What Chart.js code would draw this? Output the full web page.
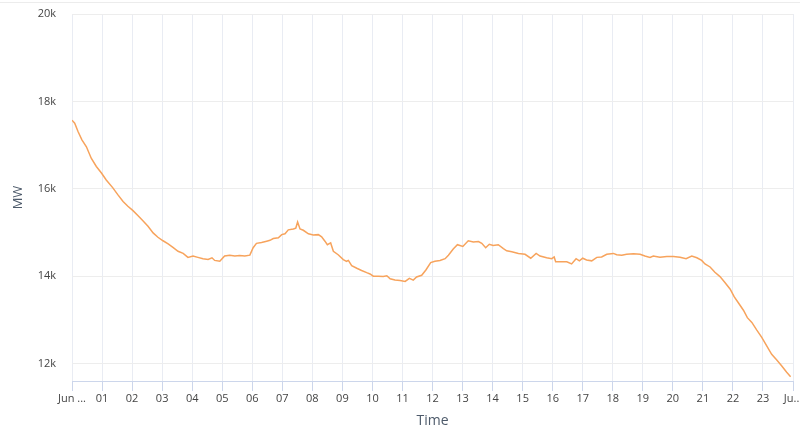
<!DOCTYPE html>
<html>
<head>
<meta charset="utf-8">
<script src="https://cdn.jsdelivr.net/npm/chart.js@4"></script>
<style>
  html, body { margin: 0; padding: 0; background: #fff; }
  #wrap { position: relative; width: 800px; height: 430px; }
  #topline { position: absolute; left: 0; top: 2px; width: 800px; height: 1px; background: #ececec; }
</style>
</head>
<body>
<div id="wrap">
  <div id="topline"></div>
  <canvas id="grafico" width="800" height="430"></canvas>
</div>
<script>
// hour of day (0 = midnight) for each reading
const hours = [
  0.00, 0.09, 0.20, 0.33, 0.48, 0.64, 0.81, 0.98, 1.14, 1.36,
  1.53, 1.70, 1.86, 2.03, 2.20, 2.36, 2.53, 2.70, 2.86, 3.03,
  3.20, 3.36, 3.53, 3.70, 3.86, 4.03, 4.19, 4.36, 4.53, 4.66,
  4.75, 4.92, 5.08, 5.25, 5.42, 5.58, 5.75, 5.92, 6.03, 6.14,
  6.31, 6.48, 6.59, 6.70, 6.87, 6.98, 7.09, 7.20, 7.37, 7.45,
  7.51, 7.59, 7.70, 7.87, 8.03, 8.20, 8.31, 8.42, 8.50, 8.61,
  8.70, 8.86, 9.03, 9.14, 9.20, 9.31, 9.48, 9.64, 9.81, 9.92,
  10.03, 10.20, 10.36, 10.48, 10.59, 10.75, 10.92, 11.09, 11.23, 11.36,
  11.47, 11.64, 11.78, 11.94, 12.08, 12.25, 12.42, 12.53, 12.69, 12.83,
  13.01, 13.19, 13.36, 13.53, 13.64, 13.77, 13.89, 14.02, 14.19, 14.36,
  14.47, 14.64, 14.86, 15.08, 15.27, 15.45, 15.58, 15.80, 15.97, 16.05,
  16.10, 16.30, 16.47, 16.63, 16.78, 16.89, 17.00, 17.13, 17.30, 17.47,
  17.63, 17.80, 18.02, 18.13, 18.30, 18.46, 18.69, 18.91, 19.07, 19.24,
  19.35, 19.57, 19.80, 20.02, 20.24, 20.44, 20.63, 20.80, 20.96, 21.07,
  21.24, 21.40, 21.57, 21.74, 21.91, 22.04, 22.18, 22.35, 22.48, 22.63,
  22.79, 22.96, 23.13, 23.29, 23.46, 23.62, 23.79, 23.92
];

// load in MW
const loadMW = [
  17570, 17500, 17310, 17120, 16960, 16700, 16510, 16360, 16200, 16020,
  15860, 15710, 15600, 15500, 15380, 15270, 15140, 14990, 14890, 14810,
  14740, 14660, 14570, 14520, 14430, 14460, 14430, 14400, 14380, 14420,
  14360, 14340, 14460, 14480, 14460, 14470, 14460, 14480, 14650, 14750,
  14770, 14800, 14820, 14860, 14880, 14950, 14970, 15060, 15080, 15100,
  15240, 15080, 15050, 14970, 14940, 14950, 14900, 14800, 14720, 14760,
  14570, 14490, 14380, 14340, 14360, 14240, 14180, 14130, 14080, 14050,
  14000, 14000, 13990, 14010, 13940, 13910, 13900, 13880, 13950, 13910,
  13980, 14020, 14140, 14310, 14340, 14360, 14400, 14480, 14620, 14720,
  14680, 14810, 14780, 14790, 14750, 14650, 14730, 14700, 14720, 14630,
  14580, 14560, 14520, 14500, 14410, 14520, 14460, 14420, 14400, 14440,
  14330, 14330, 14330, 14280, 14400, 14350, 14410, 14370, 14350, 14430,
  14440, 14500, 14520, 14490, 14480, 14500, 14510, 14500, 14460, 14430,
  14460, 14430, 14450, 14450, 14430, 14400, 14460, 14420, 14360, 14280,
  14210, 14090, 13990, 13850, 13700, 13530, 13390, 13220, 13050, 12940,
  12770, 12600, 12400, 12210, 12080, 11950, 11800, 11700
];

const yTicks = [12000, 14000, 16000, 18000, 20000];
const xTicks = [0, 1, 2, 3, 4, 5, 6, 7, 8, 9, 10, 11, 12, 13, 14, 15, 16, 17, 18, 19, 20, 21, 22, 23, 24];
const firstLabel = 'Jun ...';
const lastLabel = 'Ju...';

const puntos = hours.map(function (h, i) { return { x: h, y: loadMW[i] }; });

const fuente = '"Open Sans", "DejaVu Sans", sans-serif';

const ctx = document.getElementById('grafico').getContext('2d');

new Chart(ctx, {
  type: 'line',
  data: {
    datasets: [{
      label: 'Load',
      data: puntos,
      borderColor: '#f7a35c',
      borderWidth: 1.5,
      pointRadius: 0,
      fill: false,
      tension: 0
    }]
  },
  options: {
    responsive: false,
    animation: false,
    layout: { padding: { top: 14, right: 7, left: 0, bottom: 0 } },
    plugins: {
      legend: { display: false },
      tooltip: { enabled: false }
    },
    scales: {
      x: {
        type: 'linear',
        min: 0,
        max: 24,
        afterBuildTicks: function (scale) {
          scale.ticks = xTicks.map(function (v) { return { value: v }; });
        },
        afterFit: function (scale) {
          scale.height = 49;
          scale.paddingLeft = 0;
          scale.paddingRight = 0;
        },
        grid: {
          color: '#e9ecf3',
          tickLength: 10,
          tickColor: '#ccd6eb'
        },
        border: { color: '#ccd6eb', width: 1 },
        ticks: {
          autoSkip: false,
          maxRotation: 0,
          padding: 1,
          color: '#444',
          font: { family: fuente, size: 11 },
          callback: function (v) {
            if (v === 0) return firstLabel;
            if (v === 24) return lastLabel;
            return (v < 10 ? '0' : '') + v;
          }
        },
        title: {
          display: true,
          text: 'Time',
          color: '#4d5a6a',
          font: { family: fuente, size: 14 },
          padding: { top: 3, bottom: 1 }
        }
      },
      y: {
        min: 11600,
        max: 20000,
        afterBuildTicks: function (scale) {
          scale.ticks = yTicks.map(function (v) { return { value: v }; });
        },
        afterFit: function (scale) {
          scale.width = 72;
          scale.paddingTop = 0;
          scale.paddingBottom = 0;
        },
        grid: {
          color: '#ededed',
          drawTicks: false
        },
        border: { display: false },
        ticks: {
          padding: 16,
          color: '#444',
          font: { family: fuente, size: 11 },
          callback: function (v) { return (v / 1000) + 'k'; }
        },
        title: {
          display: true,
          text: 'MW',
          color: '#4d5a6a',
          font: { family: fuente, size: 13 },
          padding: { top: 10, bottom: 4 }
        }
      }
    }
  }
});
</script>
</body>
</html>
